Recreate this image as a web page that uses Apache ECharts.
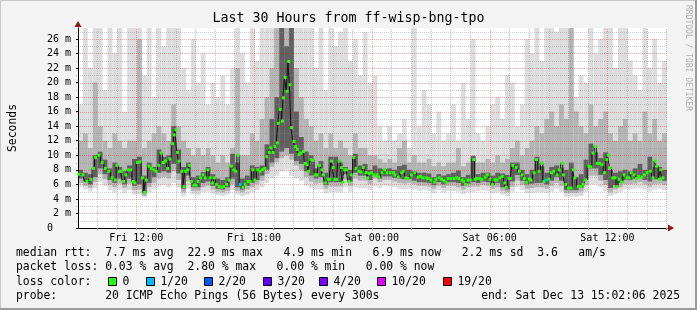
<!DOCTYPE html>
<html><head><meta charset="utf-8">
<script src="https://cdn.jsdelivr.net/npm/echarts@6/dist/echarts.min.js"></script>
<style>
html,body{margin:0;padding:0;background:#f3f3f3;}
#c{width:697px;height:310px;}
</style></head><body><div id="c"></div>
<script>
// ---------------- DATA ----------------
// x = minutes after Fri 09:02 (graph start), end = Sat 15:02:06
const xTickMinutes = [178, 538, 898, 1258, 1618];
const xTickLabels = ['Fri 12:00', 'Fri 18:00', 'Sat 00:00', 'Sat 06:00', 'Sat 12:00'];
const firstHourMinute = 58;   // Fri 10:00
const yTickValues = [0, 2, 4, 6, 8, 10, 12, 14, 16, 18, 20, 22, 24, 26];

// median rtt (ms): [minute, ms]
const medianPoints = [
[3,7.4],[15,7.3],[27,6.4],[39,6.7],[47,8.2],[54,9.7],[64,10.0],[74,9.0],[84,8.2],[94,7.8],
[104,6.9],[114,6.6],[119,8.6],[127,7.8],[132,7.8],[139,6.4],[146,7.3],[154,8.0],[161,8.0],[169,6.4],
[174,6.2],[182,9.0],[189,9.1],[197,6.9],[204,4.9],[209,6.6],[217,8.5],[224,8.2],[232,8.0],[239,7.8],
[247,8.6],[254,10.3],[261,9.0],[267,9.2],[274,8.2],[281,9.5],[289,11.6],[294,12.8],[299,13.5],[304,10.4],
[309,9.2],[317,7.8],[324,5.7],[329,7.8],[336,8.0],[341,8.6],[347,6.4],[354,5.9],[361,5.9],[367,6.4],
[374,6.9],[382,7.3],[389,6.9],[397,8.0],[404,6.9],[411,6.2],[417,6.9],[424,6.0],[431,5.7],[439,5.6],
[446,5.7],[454,6.0],[461,6.6],[469,8.5],[476,8.0],[482,7.8],[489,10.0],[496,6.0],[504,5.6],[511,6.0],
[519,6.4],[526,6.4],[534,8.0],[541,6.6],[549,8.0],[557,7.8],[564,8.0],[571,8.2],[577,9.8],[584,10.4],
[589,11.0],[596,10.4],[602,11.2],[609,11.7],[612,14.4],[618,16.3],[625,14.7],[628,17.9],[633,20.7],[639,18.8],
[644,22.9],[648,19.7],[653,13.8],[660,11.9],[665,11.2],[670,10.8],[675,10.1],[680,10.3],[689,10.5],[694,8.9],
[700,8.7],[705,7.8],[712,9.4],[718,9.3],[725,7.3],[730,7.3],[738,8.6],[745,8.0],[750,7.3],[757,6.2],
[765,6.7],[770,6.7],[775,9.2],[780,8.3],[785,6.7],[790,6.7],[798,9.2],[805,8.3],[810,6.3],[815,8.0],
[820,8.0],[828,6.4],[835,7.3],[843,9.7],[850,8.2],[858,7.8],[865,7.7],[872,8.3],[880,7.6],[885,6.9],
[890,7.5],[897,7.6],[904,7.3],[914,7.3],[919,7.0],[929,7.6],[937,8.0],[944,7.6],[954,7.6],[964,7.6],
[969,7.3],[979,7.0],[989,7.6],[994,7.8],[1002,6.9],[1009,6.8],[1019,7.3],[1029,7.6],[1039,7.0],[1047,7.1],
[1054,6.9],[1064,6.9],[1071,6.8],[1079,6.6],[1089,6.3],[1094,6.7],[1104,6.9],[1111,6.7],[1119,6.5],[1124,6.3],
[1131,6.8],[1139,6.8],[1149,6.8],[1157,6.9],[1164,6.8],[1174,6.6],[1179,6.4],[1184,6.0],[1191,6.6],[1199,6.6],
[1209,9.4],[1214,6.7],[1219,6.8],[1227,6.8],[1234,6.7],[1244,7.0],[1251,7.3],[1259,6.7],[1267,6.0],[1274,6.6],
[1281,6.6],[1289,6.9],[1297,7.1],[1304,6.2],[1309,5.6],[1317,6.8],[1321,6.8],[1329,8.6],[1339,8.3],[1349,7.8],
[1357,7.3],[1364,6.8],[1371,6.3],[1379,6.7],[1384,6.6],[1394,7.6],[1401,9.4],[1409,7.8],[1417,8.9],[1424,6.4],
[1431,6.6],[1439,6.7],[1447,7.6],[1454,7.8],[1464,7.3],[1471,8.0],[1479,8.9],[1484,7.3],[1491,6.0],[1499,5.5],
[1507,5.5],[1514,8.0],[1519,6.9],[1529,5.7],[1537,5.7],[1544,6.0],[1551,6.6],[1561,8.5],[1567,8.4],[1574,10.3],
[1581,11.2],[1587,8.9],[1594,8.9],[1601,8.7],[1609,7.6],[1616,9.4],[1621,10.0],[1627,8.3],[1634,6.9],[1641,6.9],
[1647,5.7],[1654,6.7],[1661,6.3],[1669,7.3],[1677,6.9],[1684,6.9],[1691,7.6],[1699,7.3],[1707,6.8],[1714,7.1],
[1724,7.0],[1731,7.3],[1739,7.6],[1749,7.8],[1757,6.9],[1764,9.2],[1769,8.5],[1777,6.7],[1781,8.0],[1787,6.9]
];
// minutes at which the median had 1/20 loss
const lossOneMinutes = [496, 1431];

// smoke, one column per 15 minutes (120 columns), ms
const smokeMax = [
17,30,22,30,30,19,30,24,30,16, 30,30,30,21,30,18,30,25,30,30,
30,22,19,26,20,24,17,20,18,21, 17,22,30,24,20,30,23,30,30,30,
30,30,30,30,30,30,30,30,22,30, 19,30,25,27,30,23,26,21,27,20,
21,14,12,14,12,13,15,11,28,14, 19,17,13,16,12,13,17,12,20,15,
26,13,12,14,17,18,15,21,20,14, 17,26,24,30,23,30,30,27,30,30,
19,18,21,20,30,24,26,30,30,22, 30,30,23,21,19,30,22,26,20,23];
const smokeMidHi = [
12,13,11,20,14,12,11,13,12,11, 12,12,26,11,12,13,14,13,12,17,
14,12,11,10,11,10,11,10,9,10, 9,11,22,10,10,13,12,15,18,22,
28,30,30,28,22,18,15,14,12,13, 11,13,11,12,11,10,13,11,11,10,
10,9.5,9,9.5,9,11,12,9,10,9, 9,9.5,8.5,9,8.5,9,9,11,8.5,9,
10,9,9,9.5,9,10,9,9.5,11,12, 10,11,12,14,13,15,16,14,17,15,
30,16,14,13,17,14,15,16,13,12, 14,15,12,13,12,16,13,15,12,13];
const smokeDarkHi = [
8.0,7.6,7.4,10.0,10.5,9.4,8.2,9.0,8.4,7.8, 8.6,9.5,9.8,7.2,9.0,8.4,10.8,9.8,10.0,14.0,
10.8,8.4,9.0,7.0,7.2,7.7,8.4,7.4,6.8,6.6, 7.0,10.2,9.0,6.8,7.2,8.6,8.4,8.6,11.5,15.0,
18.0,30,25,30,16.0,12.5,10.5,10.0,8.2,9.2, 7.6,9.8,9.8,9.0,8.4,8.0,10.2,8.6,8.8,8.0,
8.6,8.2,8.1,8.2,8.0,8.5,8.7,8.0,7.8,7.6, 7.6,7.5,7.0,7.4,7.2,7.4,7.6,7.9,7.0,7.3,
9.9,7.4,7.6,7.6,7.2,7.6,7.5,7.3,9.0,9.0, 8.0,7.4,8.0,9.8,8.5,7.6,8.4,8.6,8.3,8.0,
9.0,7.0,7.4,9.4,11.6,10.4,9.6,10.4,8.0,7.6, 7.8,8.0,7.8,8.2,8.8,8.0,9.8,8.4,8.4,8.0];
const smokeDarkLo = [
6.8,6.4,6.0,7.0,8.2,7.4,6.6,6.2,6.8,6.0, 6.8,5.8,6.0,4.8,6.2,7.0,7.6,7.8,7.6,8.8,
7.5,5.4,7.2,5.6,5.6,6.2,6.4,5.8,5.4,5.3, 5.6,6.8,5.6,5.3,5.8,6.2,6.6,7.2,8.0,9.0,
9.6,10.5,11.0,10.2,9.2,8.8,7.8,7.2,6.8,7.0, 5.9,6.3,6.3,6.3,7.4,6.4,7.6,7.2,7.2,6.6,
7.4,6.8,7.1,7.1,6.9,6.8,6.7,6.8,6.5,6.3, 6.3,6.2,5.9,6.3,6.0,6.3,6.3,6.2,5.8,6.1,
6.3,6.2,6.4,6.3,5.9,6.2,5.6,5.3,6.4,7.3, 6.5,6.0,6.1,6.2,6.2,6.0,6.5,7.0,6.5,5.2,
5.2,5.2,5.5,6.6,8.2,8.2,7.3,6.6,5.5,5.9, 6.2,6.6,6.6,6.8,7.0,6.6,6.4,6.7,6.8,6.5];
const smokeMidLo = [
6.2,5.8,5.5,6.3,7.4,6.7,5.9,5.6,6.1,5.5, 6.1,5.2,5.3,4.4,5.6,6.2,6.8,7.0,6.8,7.8,
6.6,4.9,6.4,5.1,5.1,5.6,5.8,5.3,5.0,4.9, 5.1,6.0,5.1,4.9,5.3,5.6,6.0,6.5,7.4,8.4,
9.0,9.6,10.0,9.4,8.6,8.0,7.0,6.4,6.1,6.2, 5.4,5.7,5.7,5.7,6.6,5.8,6.8,6.5,6.5,6.0,
6.8,6.3,6.6,6.6,6.4,6.2,6.1,6.2,6.0,5.8, 5.8,5.7,5.4,5.8,5.5,5.8,5.8,5.6,5.3,5.6,
5.7,5.7,5.9,5.8,5.4,5.6,5.1,4.9,5.7,6.5, 5.9,5.4,5.5,5.6,5.6,5.4,5.8,6.2,5.8,4.8,
4.8,4.8,5.0,5.9,7.2,7.2,6.5,5.9,4.9,5.3, 5.6,6.0,6.0,6.1,6.3,6.0,5.7,6.0,6.1,5.9];
const smokeMin = [
5.6,5.3,5.0,5.5,6.3,5.8,5.2,4.9,5.3,4.8, 5.2,4.6,4.6,4.2,4.9,5.3,5.7,5.9,5.6,6.2,
5.6,4.4,5.4,4.6,4.5,4.9,5.0,4.7,4.5,4.4, 4.6,5.2,4.6,4.4,4.6,4.9,5.2,5.6,6.2,6.8,
7.2,7.8,8.0,7.2,6.8,6.5,5.8,5.5,5.3,5.3, 4.8,4.9,4.9,4.9,5.6,5.0,5.6,5.5,5.5,5.2,
5.8,5.5,5.8,5.8,5.6,5.4,5.3,5.4,5.3,5.1, 5.2,5.1,4.8,5.2,4.9,5.1,5.1,5.0,4.7,4.9,
5.0,5.1,5.2,5.1,4.8,4.9,4.6,4.4,5.0,5.6, 5.2,4.8,4.8,4.9,4.9,4.8,5.0,5.4,5.0,4.3,
4.3,4.3,4.4,5.0,6.0,6.0,5.6,5.1,4.4,4.7, 5.0,5.3,5.3,5.4,5.5,5.3,5.0,5.3,5.4,5.2];

// legend texts
const titleText = 'Last 30 Hours from ff-wisp-bng-tpo';
const statLines = [
  'median rtt:  7.7 ms avg  22.9 ms max   4.9 ms min   6.9 ms now   2.2 ms sd  3.6   am/s',
  'packet loss: 0.03 % avg  2.80 % max   0.00 % min   0.00 % now'
];
const lossLabels = ['0', '1/20', '2/20', '3/20', '4/20', '10/20', '19/20'];
const lossColors = ['#26ff00', '#00b8ff', '#0059ff', '#5e00ff', '#7e00ff', '#dd00ff', '#ff0000'];
const probeText = 'probe:       20 ICMP Echo Pings (56 Bytes) every 300s';
const endText = 'end: Sat Dec 13 15:02:06 2025';

// ---------------- CHART ----------------
const FONT = '"DejaVu Sans Mono", monospace';
const X_MAX = 1800, Y_MAX = 27.5, SMOKE_STEP = 15;
const NB = '\u00a0';
const chart = echarts.init(document.getElementById('c'), null, {renderer: 'canvas', width: 697, height: 310});

function band(lo, hi, color, z) {
  return {
    type: 'custom', silent: true, z: z, clip: true,
    data: lo.map((l, j) => [j * SMOKE_STEP, (j + 1) * SMOKE_STEP, l, hi[j]]),
    encode: {x: [0, 1], y: [2, 3]},
    renderItem: function (params, api) {
      const a = api.coord([api.value(0), Math.min(api.value(3), Y_MAX)]);
      const b = api.coord([api.value(1), api.value(2)]);
      return {type: 'rect', shape: {x: a[0], y: a[1], width: b[0] - a[0], height: b[1] - a[1]},
              style: {fill: color}};
    }
  };
}

const hourMarks = [];
for (let m = firstHourMinute; m < X_MAX; m += 60) hourMarks.push(m);
const msLines = [];
for (let v = 1; v < Y_MAX; v++) msLines.push(v);

const RED = 'rgba(255,0,0,0.32)';
const GRAY = 'rgba(140,140,140,0.45)';

const vGrid = {
  type: 'custom', silent: true, z: 5,
  data: hourMarks.map(m => [m, xTickMinutes.indexOf(m) >= 0 ? 1 : 0]),
  renderItem: function (params, api) {
    const p = api.coord([api.value(0), 0]);
    const q = api.coord([api.value(0), Y_MAX]);
    const x = Math.round(p[0]) + 0.5;
    return {type: 'line', shape: {x1: x, y1: Math.round(p[1]) + 2, x2: x, y2: Math.round(q[1])},
            style: {stroke: api.value(1) ? RED : GRAY, lineWidth: 1, lineDash: [1, 1]}};
  }
};
const hGrid = {
  type: 'custom', silent: true, z: 5,
  data: msLines.map(v => [0, v]),
  encode: {x: 0, y: 1},
  renderItem: function (params, api) {
    const v = api.value(1);
    const p = api.coord([0, v]);
    const q = api.coord([X_MAX, v]);
    const y = Math.round(p[1]) + 0.5;
    return {type: 'line', shape: {x1: Math.round(p[0]) - 2, y1: y, x2: Math.round(q[0]), y2: y},
            style: {stroke: v % 2 === 0 ? RED : GRAY, lineWidth: 1, lineDash: [1, 1]}};
  }
};

const medianData = medianPoints.map(p => {
  const o = {value: p};
  if (lossOneMinutes.indexOf(p[0]) >= 0) o.itemStyle = {color: lossColors[1]};
  return o;
});

const graphics = [];
graphics.push({type: 'rect', shape: {x: 0.5, y: 0.5, width: 695, height: 308},
  style: {fill: 'none', stroke: '#c8c8c8', lineWidth: 1}, silent: true, z: 0});
graphics.push({type: 'line', shape: {x1: 696, y1: 0, x2: 696, y2: 310}, style: {stroke: '#9a9a9a', lineWidth: 2}, silent: true});
graphics.push({type: 'line', shape: {x1: 0, y1: 309, x2: 697, y2: 309}, style: {stroke: '#9a9a9a', lineWidth: 2}, silent: true});
graphics.push({type: 'text', x: 348.5, y: 19, style: {text: titleText, font: '13.3px ' + FONT, fill: '#000', align: 'center', verticalAlign: 'middle'}});
graphics.push({type: 'text', x: 688, y: 5, rotation: -Math.PI / 2,
  style: {text: 'RRDTOOL / TOBI OETIKER', font: '8px ' + FONT, fill: '#b0b0b0', align: 'left', verticalAlign: 'middle'}});
statLines.forEach((t, i) => graphics.push({type: 'text', x: 16, y: 253 + i * 14.5,
  style: {text: t, font: '11.4px ' + FONT, fill: '#000', align: 'left', verticalAlign: 'middle'}}));
graphics.push({type: 'text', x: 16, y: 282, style: {text: 'loss color:', font: '11.4px ' + FONT, fill: '#000', align: 'left', verticalAlign: 'middle'}});
const boxX = [108, 146, 204, 263, 319, 377, 443];
lossLabels.forEach((l, i) => {
  graphics.push({type: 'rect', shape: {x: boxX[i] + 0.5, y: 277.5, width: 8, height: 8},
    style: {fill: lossColors[i], stroke: '#000', lineWidth: 1}});
  graphics.push({type: 'text', x: boxX[i] + 14.5, y: 282,
    style: {text: l, font: '11.4px ' + FONT, fill: '#000', align: 'left', verticalAlign: 'middle'}});
});
graphics.push({type: 'text', x: 16, y: 296, style: {text: probeText, font: '11.4px ' + FONT, fill: '#000', align: 'left', verticalAlign: 'middle'}});
graphics.push({type: 'text', x: 680, y: 296, style: {text: endText, font: '11.4px ' + FONT, fill: '#000', align: 'right', verticalAlign: 'middle'}});

chart.setOption({
  animation: false,
  backgroundColor: '#f3f3f3',
  grid: {left: 67, top: 28, width: 600, height: 200, show: true, backgroundColor: '#ffffff', borderWidth: 0},
  xAxis: {
    type: 'value', min: 0, max: X_MAX, z: 6,
    splitLine: {show: false},
    axisLine: {show: true, lineStyle: {color: '#000', width: 1}},
    axisTick: {show: true, customValues: hourMarks, length: 2, lineStyle: {color: '#999'}},
    axisLabel: {customValues: xTickMinutes, formatter: v => xTickLabels[xTickMinutes.indexOf(v)],
      fontFamily: FONT, fontSize: 10, color: '#000', margin: 5}
  },
  yAxis: {
    type: 'value', min: 0, max: Y_MAX, interval: 2, z: 6,
    name: 'Seconds', nameLocation: 'middle', nameRotate: 90, nameGap: 59,
    nameTextStyle: {fontFamily: FONT, fontSize: 11.4, color: '#000'},
    splitLine: {show: false},
    axisLine: {show: true, lineStyle: {color: '#000', width: 1}},
    axisTick: {show: true, length: 2, lineStyle: {color: '#000'}, customValues: yTickValues},
    axisLabel: {formatter: v => v === 0 ? '0' + NB + NB + NB : v + ' m', fontFamily: FONT, fontSize: 10, color: '#000', margin: 7,
      showMaxLabel: true, showMinLabel: true, customValues: yTickValues}
  },
  graphic: graphics,
  series: [
    band(smokeMin, smokeMax, '#dddddd', 1),
    band(smokeMidLo, smokeMidHi, '#b4b4b4', 2),
    band(smokeDarkLo, smokeDarkHi, '#606060', 3),
    hGrid, vGrid,
    {
      type: 'line', z: 8, data: medianData, step: 'middle', silent: true,
      lineStyle: {color: '#111', width: 1},
      symbol: 'rect', symbolSize: [3, 3], showSymbol: true, showAllSymbol: true,
      itemStyle: {color: lossColors[0]}
    }
  ]
});

// axis arrows (decoration anchored to the axis ends)
const axTop = chart.convertToPixel({gridIndex: 0}, [0, Y_MAX]);
const axRight = chart.convertToPixel({gridIndex: 0}, [X_MAX, 0]);
chart.setOption({graphic: graphics.concat([
  {type: 'polygon', shape: {points: [[axTop[0] - 3.5, axTop[1] - 1], [axTop[0] + 3.5, axTop[1] - 1], [axTop[0], axTop[1] - 7]]},
   style: {fill: '#8b1a1a'}, z: 10},
  {type: 'polygon', shape: {points: [[axRight[0] + 1, axRight[1] - 3.5], [axRight[0] + 1, axRight[1] + 3.5], [axRight[0] + 7, axRight[1]]]},
   style: {fill: '#8b1a1a'}, z: 10}
])});
</script></body></html>
